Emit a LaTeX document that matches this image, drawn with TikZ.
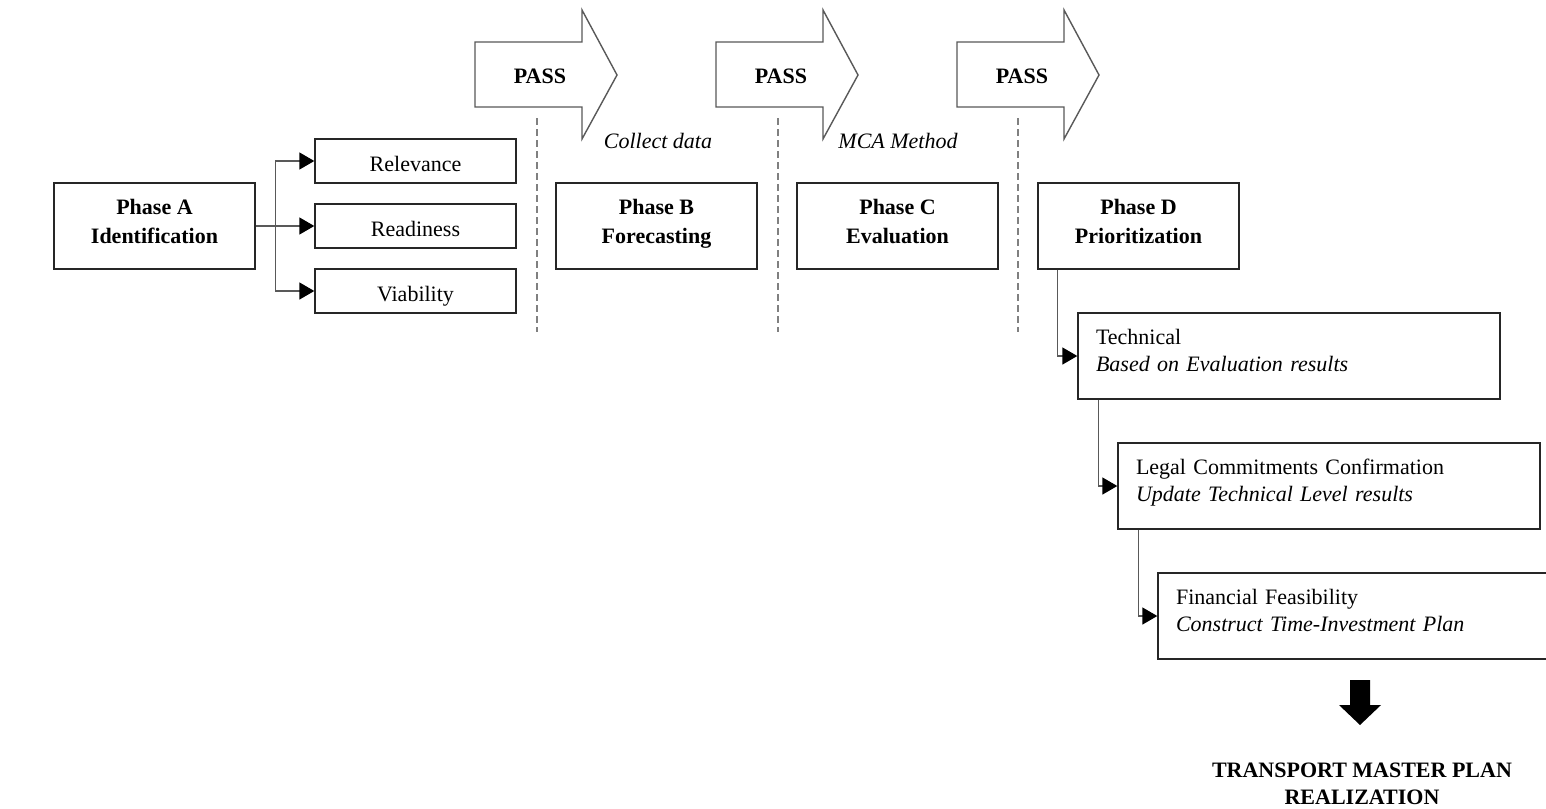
\documentclass[tikz,border=0pt]{standalone}
\usepackage{fontspec}
\setmainfont{Liberation Serif}
\usetikzlibrary{arrows.meta}
\newcommand{\lowfix}{\rule[-12pt]{0pt}{0pt}}
\begin{document}
\begin{tikzpicture}[x=1pt,y=-1pt,
  frame/.style={draw=black!85, line width=1.4pt, inner sep=0pt, font=\fontsize{22}{27}\selectfont},
  box/.style={frame, align=center},
  phase/.style={box, minimum width=201pt, minimum height=86pt, font=\fontsize{22}{29}\selectfont\bfseries},
  crit/.style={frame, minimum width=201pt, minimum height=44pt, text height=21pt, text depth=0pt},
  level/.style={box, minimum width=422pt, minimum height=86pt, text width=386pt, align=left},
  conn/.style={draw=black!65, line width=1.5pt, -{Triangle[length=15pt,width=17pt,color=black]}},
  sep/.style={draw=black!50, line width=1.4pt, dash pattern=on 7pt off 4pt},
  passarrow/.style={draw=black!65, line width=1.4pt, fill=white},
  passtext/.style={font=\fontsize{22}{27}\selectfont\bfseries},
  note/.style={font=\fontsize{22}{27}\selectfont\itshape}
]
\clip (0,0) rectangle (1546,808);
\fill[white] (0,0) rectangle (1546,808);

% PASS arrows
\foreach \dx/\nm in {0/p1,241/p2,482/p3}{
  \draw[passarrow] (475+\dx,42) -- (582+\dx,42) -- (582+\dx,10) -- (617+\dx,75)
     -- (582+\dx,139) -- (582+\dx,107) -- (475+\dx,107) -- cycle;
  \node[passtext] (\nm) at (540+\dx,76) {PASS};
}

% separators
\draw[sep] (537,118) -- (537,332);
\draw[sep] (778,118) -- (778,332);
\draw[sep] (1018,118) -- (1018,332);

% notes
\node[note] (n1) at (658,141) {Collect data};
\node[note] (n2) at (898,141) {MCA Method};

% phases
\node[phase] (A) at (154.5,226) {Phase A\\Identification\strut};
\node[phase] (B) at (656.5,226) {Phase B\\Forecasting\strut};
\node[phase] (C) at (897.5,226) {Phase C\\Evaluation\strut};
\node[phase] (D) at (1138.5,226) {Phase D\\Prioritization\strut};

% criteria
\node[crit] (rel) at (415.5,161) {Relevance};
\node[crit] (rea) at (415.5,226) {Readiness};
\node[crit] (via) at (415.5,291) {Viability};

\coordinate (bus) at ([xshift=20pt]A.east);
\draw[draw=black!65, line width=1.5pt] (A.east) -- (bus);
\draw[conn] (bus) |- (rel.west);
\draw[conn] (bus) -- (rea.west);
\draw[conn] (bus) |- (via.west);

% prioritization levels
\node[level] (T) at (1289,356) {Technical\\\textit{Based on Evaluation results}\lowfix};
\node[level] (L) at (1329,486) {Legal Commitments Confirmation\\\textit{Update Technical Level results}\lowfix};
\node[level] (F) at (1369,616) {Financial Feasibility\\\textit{Construct Time-Investment Plan}\lowfix};

\draw[conn] ([xshift=20pt]D.south west) |- (T.west);
\draw[conn] ([xshift=21pt]T.south west) |- (L.west);
\draw[conn] ([xshift=21pt]L.south west) |- (F.west);

% final arrow and result
\fill[black] (1350,680) -- (1370,680) -- (1370,705) -- (1381,705) -- (1360,725)
   -- (1339,705) -- (1350,705) -- cycle;
\node[font=\fontsize{22}{27}\selectfont\bfseries, align=center] (goal) at (1362,783.5)
   {TRANSPORT MASTER PLAN\\REALIZATION};
\end{tikzpicture}
\end{document}
